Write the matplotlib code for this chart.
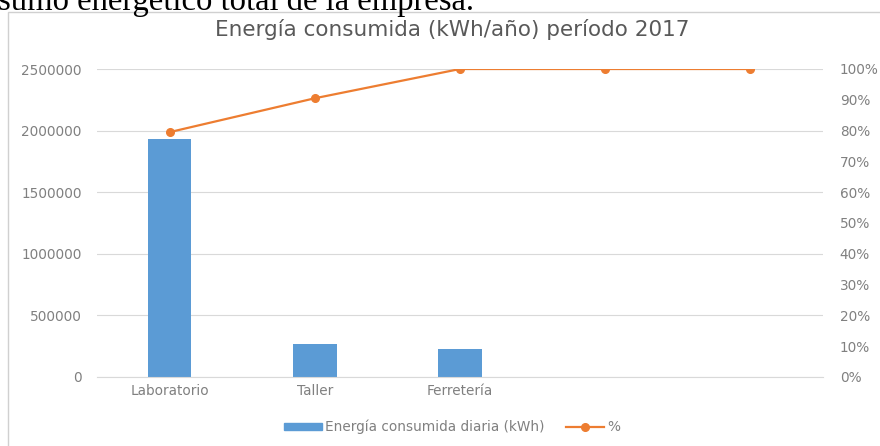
import numpy as np
import matplotlib
matplotlib.use('Agg')
from matplotlib import pyplot as plt
from matplotlib.patches import Rectangle
from matplotlib.lines import Line2D
from matplotlib.ticker import FuncFormatter

# data
categorias = ['Laboratorio', 'Taller', 'Ferretería', '', '']
energia = [1930000, 270000, 225000, np.nan, np.nan]
porcentaje = [0.795, 0.905, 1.0, 1.0, 1.0]

azul = '#5B9BD5'
naranja = '#ED7D31'
gris_txt = '#808080'
gris_grid = '#D9D9D9'

plt.rcParams['font.family'] = ['DejaVu Sans']

fig = plt.figure(figsize=(8.8, 4.46), dpi=100)

# text of the page above the chart (cut off at the top in the original)
fig.text(-0.002, 1 - 10 / 446, 'sumo energético total de la empresa.', family='Liberation Serif',
         fontsize=23.5, color='black', ha='left', va='baseline')

# chart frame
fig.patches.append(Rectangle((8 / 880, -0.1), 1.2, 1 - 12 / 446 + 0.1, transform=fig.transFigure,
                             fill=False, edgecolor='#D0D0D0', linewidth=1.0))

ax = fig.add_axes([97 / 880, 1 - 377 / 446, (823 - 97) / 880, (377 - 69) / 446])
x = np.arange(len(categorias))
ax.bar(x, energia, width=0.3, color=azul, zorder=2)
ax.set_xlim(-0.5, len(categorias) - 0.5)
ax.set_ylim(0, 2500000)
ax.set_yticks(np.arange(0, 2500001, 500000))
ax.yaxis.set_major_formatter(FuncFormatter(lambda v, p: '%d' % v))
ax.set_xticks(x)
ax.set_xticklabels(categorias)
ax.grid(axis='y', color=gris_grid, linewidth=0.8, zorder=0)
for s in ['top', 'right', 'left']:
    ax.spines[s].set_visible(False)
ax.spines['bottom'].set_color(gris_grid)
ax.tick_params(axis='both', length=0, labelcolor=gris_txt, labelsize=9.8)
ax.tick_params(axis='y', pad=11)
ax.tick_params(axis='x', pad=5)

ax2 = ax.twinx()
ax2.plot(x, porcentaje, color=naranja, linewidth=1.6, marker='o', markersize=5.5, zorder=3)
ax2.set_ylim(0, 1.0)
ax2.set_yticks(np.arange(0, 1.01, 0.1))
ax2.yaxis.set_major_formatter(FuncFormatter(lambda v, p: '%d%%' % round(v * 100)))
for s in ax2.spines.values():
    s.set_visible(False)
ax2.tick_params(axis='y', length=0, labelsize=9.8, labelcolor=gris_txt, pad=12)

fig.text(452 / 880, 1 - 30 / 446, 'Energía consumida (kWh/año) período 2017', ha='center', va='center',
         fontsize=15.5, color='#595959')

handles = [Rectangle((0, 0), 1, 1, color=azul),
           Line2D([], [], color=naranja, linewidth=1.6, marker='o', markersize=5.5)]
fig.legend(handles, ['Energía consumida diaria (kWh)', '%'], loc='center',
           bbox_to_anchor=(452 / 880, 1 - 427 / 446), ncol=2, frameon=False,
           fontsize=9.8, labelcolor=gris_txt, handlelength=2.8, handleheight=0.45,
           columnspacing=1.6, handletextpad=0.2)

fig.savefig('out.png', dpi=100)
